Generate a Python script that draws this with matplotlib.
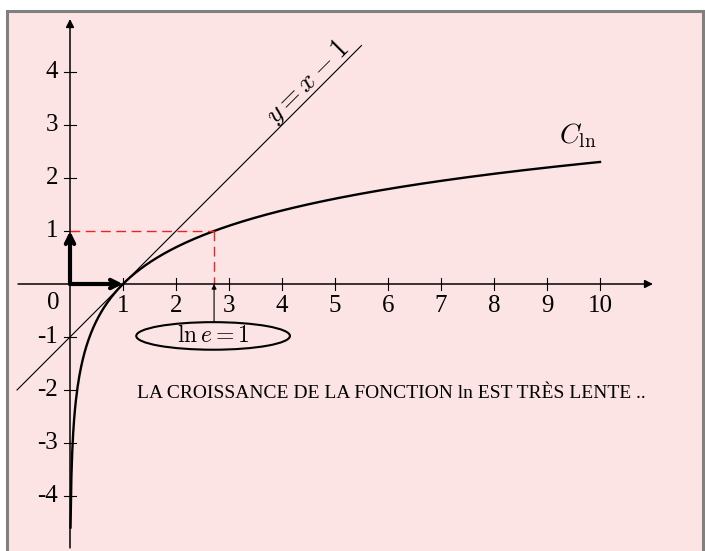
import numpy as np
import matplotlib
matplotlib.use("Agg")
import matplotlib.pyplot as plt
from matplotlib.patches import Ellipse, Rectangle

plt.rcParams['font.family'] = ['Liberation Serif', 'DejaVu Serif']
plt.rcParams['mathtext.fontset'] = 'cm'

# données
x_ticks = [1, 2, 3, 4, 5, 6, 7, 8, 9, 10]
y_ticks = [-4, -3, -2, -1, 1, 2, 3, 4]
x_curve = np.linspace(0.0101, 10, 600)
y_curve = np.log(x_curve)
x_tangent = [-1, 5.5]
e_val = np.e

W, H = 705, 551
fig = plt.figure(figsize=(W / 100, H / 100), dpi=100)
ax = fig.add_axes([0, 0, 1, 1])
# 1 unité = 53 px, origine à (70, 284) px
sc = 53.0
ax.set_xlim(-70 / sc, (W - 70) / sc)
ax.set_ylim(-(H - 284) / sc, 284 / sc)
ax.axis('off')

# cadre rose
ax.add_patch(Rectangle((7 / W, -0.02), (703 - 7) / W, (H - 11) / H + 0.02,
                       transform=fig.transFigure, facecolor='#fde4e4',
                       edgecolor='#808080', linewidth=2.2, zorder=0,
                       clip_on=False))

# axes avec flèches
ax.annotate('', xy=(11.0, 0), xytext=(-0.98, 0),
            arrowprops=dict(arrowstyle='-|>', lw=1.1, color='black',
                            mutation_scale=12, shrinkA=0, shrinkB=0))
ax.annotate('', xy=(0, 5.0), xytext=(0, -4.98),
            arrowprops=dict(arrowstyle='-|>', lw=1.1, color='black',
                            mutation_scale=12, shrinkA=0, shrinkB=0))

# graduations
tk = 0.11
for t in x_ticks:
    ax.plot([t, t], [-tk, tk], color='black', lw=0.8)
    ax.text(t, -0.2, str(t), ha='center', va='top', fontsize=18)
for t in y_ticks:
    ax.plot([-tk, tk], [t, t], color='black', lw=0.8)
    ax.text(-0.22, t, str(t), ha='right', va='center', fontsize=18)
ax.text(-0.32, -0.36, '0', ha='center', va='center', fontsize=18)

# tangente y = x - 1
ax.plot(x_tangent, [v - 1 for v in x_tangent], color='black', lw=0.8)
ax.text(4.47, 3.8, r'$y = x - 1$', rotation=45, ha='center', va='center',
        fontsize=20, rotation_mode='anchor')

# courbe ln
ax.plot(x_curve, y_curve, color='black', lw=1.7)
ax.text(9.58, 2.8, r'$C_{\ln}$', ha='center', va='center', fontsize=20)

# pointillés rouges
ax.plot([0, e_val], [1, 1], color='#ee2222', lw=1.0, dashes=(7, 4))
ax.plot([e_val, e_val], [1, 0], color='#ee2222', lw=1.0, dashes=(7, 4))

# vecteurs i et j
ax.annotate('', xy=(1, 0), xytext=(0, 0),
            arrowprops=dict(arrowstyle='->,head_length=0.6,head_width=0.3',
                            lw=3, color='black', shrinkA=0, shrinkB=0))
ax.annotate('', xy=(0, 1), xytext=(0, 0),
            arrowprops=dict(arrowstyle='->,head_length=0.6,head_width=0.3',
                            lw=3, color='black', shrinkA=0, shrinkB=0))

# ellipse ln e = 1
ax.add_patch(Ellipse((2.7, -0.98), 2.9, 0.52, facecolor='none',
                     edgecolor='black', lw=1.5))
ax.text(2.7, -0.98, r'$\ln e = 1$', ha='center', va='center', fontsize=17)
ax.annotate('', xy=(e_val, 0), xytext=(e_val, -0.72),
            arrowprops=dict(arrowstyle='-|>', lw=0.8, color='black',
                            mutation_scale=7, shrinkA=0, shrinkB=0))

ax.text(6.07, -2.06, 'LA CROISSANCE DE LA FONCTION ln EST TRÈS LENTE ..',
        ha='center', va='center', fontsize=14)

fig.savefig('out.png', dpi=100)
